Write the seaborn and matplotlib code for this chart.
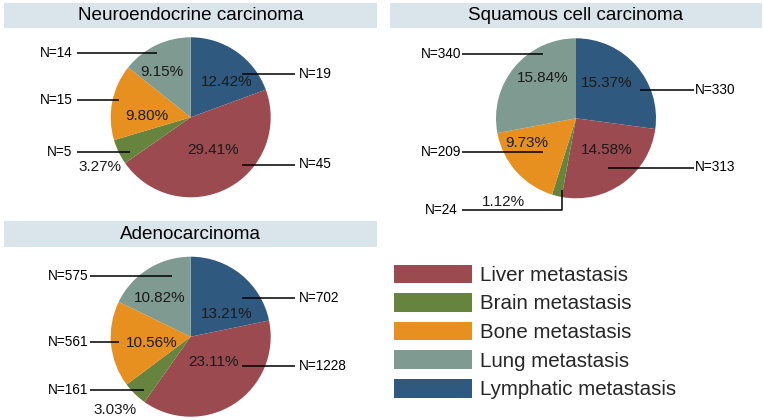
import numpy as np
import pandas as pd
import matplotlib
matplotlib.use("Agg")
import matplotlib.pyplot as plt
from matplotlib.patches import Rectangle, Patch
import seaborn as sns

# ---------------- data ----------------
slice_sites = ["Lymphatic metastasis", "Liver metastasis", "Brain metastasis",
               "Bone metastasis", "Lung metastasis"]
legend_order = ["Liver metastasis", "Brain metastasis", "Bone metastasis",
                "Lung metastasis", "Lymphatic metastasis"]
titles = ["Neuroendocrine carcinoma", "Squamous cell carcinoma", "Adenocarcinoma"]

nec_n = [19, 45, 5, 15, 14]
nec_pct = ["12.42%", "29.41%", "3.27%", "9.80%", "9.15%"]
scc_n = [330, 313, 24, 209, 340]
scc_pct = ["15.37%", "14.58%", "1.12%", "9.73%", "15.84%"]
adc_n = [702, 1228, 161, 561, 575]
adc_pct = ["13.21%", "23.11%", "3.03%", "10.56%", "10.82%"]

# ---------------- style ----------------
sns.set_theme(style="white")
plt.rcParams['font.family'] = ['Liberation Sans', 'DejaVu Sans']

site_colors = dict(zip(legend_order, sns.color_palette(
    ["#9B4A50", "#67843F", "#E8901F", "#7F9A90", "#30597F"])))

W, H = 764, 420
fig = plt.figure(figsize=(W / 100, H / 100), dpi=100)
R = 80.0  # pie radius in px

# layout: pie centres (px from top-left), title boxes, label positions (in pie units)
pies = [
    dict(n=nec_n, pct=nec_pct, title=titles[0], c=(190.7, 117.3), box=(4, 2.5, 377, 28.3),
         pct_pos=[(0.45, 0.445), (0.28, -0.41), (-1.13, -0.62), (-0.55, 0.01), (-0.36, 0.57)],
         lines=[[(0.64, 0.54), (1.30, 0.54)], [(0.64, -0.59), (1.30, -0.59)],
                [(-0.76, -0.43), (-1.425, -0.43)], [(-0.90, 0.22), (-1.425, 0.22)],
                [(-0.425, 0.80), (-1.425, 0.80)]],
         ntext=[(1.35, 0.54, 'left'), (1.35, -0.59, 'left'), (-1.475, -0.43, 'right'),
                (-1.475, 0.22, 'right'), (-1.475, 0.80, 'right')]),
    dict(n=scc_n, pct=scc_pct, title=titles[1], c=(576.0, 118.3), box=(390, 2.5, 762, 28.3),
         pct_pos=[(0.38, 0.44), (0.38, -0.40), (-0.91, -1.04), (-0.62, -0.31), (-0.42, 0.51)],
         lines=[[(0.80, 0.35), (1.47, 0.35)], [(0.40, -0.625), (1.47, -0.625)],
                [(-0.18, -0.90), (-0.18, -1.14), (-1.43, -1.14)],
                [(-0.41, -0.42), (-1.43, -0.42)], [(-0.41, 0.81), (-1.43, 0.81)]],
         ntext=[(1.49, 0.35, 'left'), (1.49, -0.61, 'left'), (-1.48, -1.14, 'right'),
                (-1.44, -0.42, 'right'), (-1.44, 0.81, 'right')]),
    dict(n=adc_n, pct=adc_pct, title=titles[2], c=(190.7, 336.7), box=(4, 221, 377, 247.3),
         pct_pos=[(0.45, 0.29), (0.28, -0.31), (-0.95, -0.91), (-0.49, -0.08), (-0.39, 0.49)],
         lines=[[(0.64, 0.48), (1.30, 0.48)], [(0.64, -0.37), (1.30, -0.37)],
                [(-0.59, -0.67), (-1.26, -0.67)], [(-0.90, -0.07), (-1.26, -0.07)],
                [(-0.24, 0.76), (-1.26, 0.76)]],
         ntext=[(1.35, 0.48, 'left'), (1.35, -0.37, 'left'), (-1.28, -0.67, 'right'),
                (-1.28, -0.07, 'right'), (-1.28, 0.76, 'right')]),
]

XL, YL = 2.2, 1.3
for p in pies:
    cx, cy = p['c']
    left = cx - XL * R
    bottom = (H - cy) - YL * R
    ax = fig.add_axes([left / W, bottom / H, 2 * XL * R / W, 2 * YL * R / H])
    df = pd.DataFrame({"site": slice_sites, "n": p['n'], "pct": p['pct']})
    ax.pie(df["n"], colors=[site_colors[s] for s in df["site"]], startangle=90,
           counterclock=False, radius=1, wedgeprops=dict(linewidth=0))
    ax.set_xlim(-XL, XL)
    ax.set_ylim(-YL, YL)
    ax.set_aspect('auto')
    ax.axis('off')
    for (x, y), t in zip(p['pct_pos'], df["pct"]):
        ax.text(x, y, t, ha='center', va='center', fontsize=11, color='#1a1a1a')
    for pts, (tx, ty, ha), n in zip(p['lines'], p['ntext'], df["n"]):
        xs, ys = zip(*pts)
        ax.plot(xs, ys, color='black', lw=1.1, solid_capstyle='butt', clip_on=False)
        ax.text(tx, ty, f"N={n}", ha=ha, va='center', fontsize=9.8, color='black')
    # title box
    x0, y0, x1, y1 = p['box']
    fig.patches.append(Rectangle((x0 / W, 1 - y1 / H), (x1 - x0) / W, (y1 - y0) / H,
                                 transform=fig.transFigure, facecolor='#DAE4EB',
                                 edgecolor='none', zorder=0))
    fig.text((x0 + x1) / 2 / W, 1 - (y0 + y1) / 2 / H, p['title'], ha='center',
             va='center', fontsize=13.6, color='black')

handles = [Patch(facecolor=site_colors[s], edgecolor='none', label=s) for s in legend_order]
fig.legend(handles=handles, loc='upper left', bbox_to_anchor=(394 / W, 1 - 264.5 / H),
           frameon=False, fontsize=14.8, handlelength=3.79, handleheight=1.02,
           handletextpad=0.39, labelspacing=0.40, borderpad=0, borderaxespad=0)

fig.savefig("out.png", dpi=100, facecolor='white')
